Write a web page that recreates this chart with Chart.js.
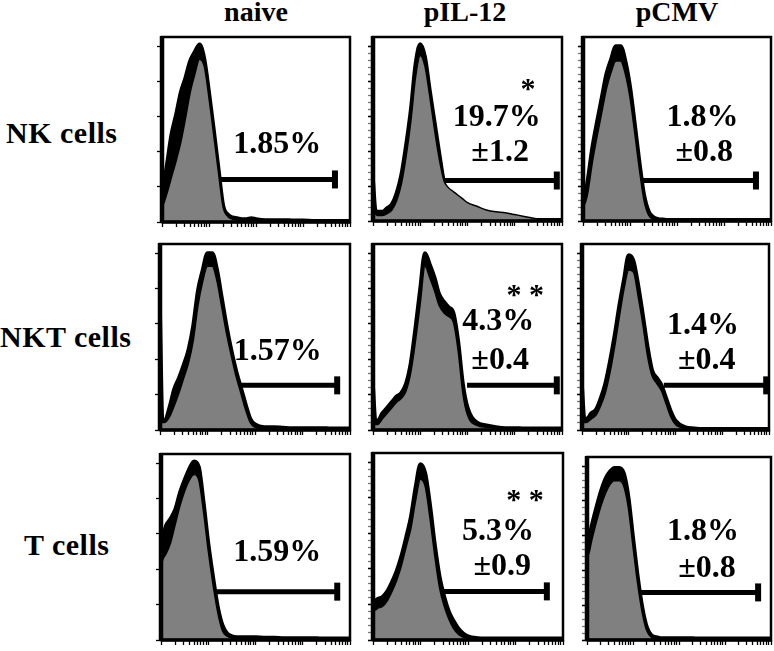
<!DOCTYPE html>
<html><head><meta charset="utf-8">
<script src="https://cdn.jsdelivr.net/npm/chart.js@4.4.1/dist/chart.umd.min.js"></script>
<style>
html,body{margin:0;padding:0;background:#fff;}
body{width:774px;height:651px;position:relative;overflow:hidden;font-family:"Liberation Serif","Times New Roman",serif;}
.lbl{position:absolute;font-weight:bold;white-space:nowrap;color:#000;}
.hdr{font-size:28px;line-height:28px;text-align:center;width:140px;top:-2px;}
.row{font-size:30px;line-height:30px;letter-spacing:0.5px;}
.panel{position:absolute;}
</style></head><body>
<div class="lbl hdr" style="left:186px">naive</div>
<div class="lbl hdr" style="left:395px">pIL-12</div>
<div class="lbl hdr" style="left:607px">pCMV</div>
<div class="lbl row" style="left:6px;top:118px">NK cells</div>
<div class="lbl row" style="left:0px;top:322px">NKT cells</div>
<div class="lbl row" style="left:24px;top:530px">T cells</div>
<div id="host"></div>
<script>
// ---- DATA ----
// fluorescence intensity in log decades (0 = 10^0 ... 4 = 10^4)
const X = [0,0.05,0.1,0.2,0.3,0.4,0.5,0.6,0.7,0.8,0.9,1.0,1.1,1.2,1.3,1.4,1.5,1.6,1.7,1.8,1.9,2.0,2.2,2.4,2.6,2.8,3.0,3.2,3.4,3.6,3.8,4.0];

// % of max, filled (grey) histogram and overlaid black outline histograms
const nkNaiveGray  = [8,11,15,24,33,43,56,70,80,88,84,67,47,27,8,3,1.5,1,0.8,0.8,0.8,0.8,0.6,0.6,0.5,0.5,0.5,0.4,0.4,0.4,0.4,0.4];
const nkNaiveLine  = [15,22,30,47,58,70,78,87,92,96,88,70,50,29,9,4,2.5,2,1.5,1.5,2,1.5,1,1,1,0.8,0.8,0.6,0.5,0.5,0.5,0.5];
const nkIL12Gray   = [20,4,3,3,4,6,11,20,35,54,78,90,84,68,50,34,22,18,16,14,12,10,8,6,5,4.5,3.5,2.5,1.5,0.5,0.3,0.3];
const nkIL12Line   = [22,6,5,5,7,9,15,25,41,60,85,96,89,71,54,37,21,10,3,1.5,1,1,0.5,0.5,0.5,0.5,0.5,0.5,0.5,0.5,0.5,0.5];
const nkCMVGray    = [8,10,15,32,46,59,72,81,87,87,80,67,48,28,11,3,1,0.5,0.5,0.5,0.5,0.5,0.5,0.5,0.5,0.5,0.5,0.5,0.5,0.5,0.5,0.5];
const nkCMVLine    = [12,14,22,40,54,67,80,88,95,95,87,73,53,32,14,5,2,1,0.8,0.6,0.5,0.5,0.5,0.5,0.5,0.5,0.5,0.5,0.5,0.5,0.5,0.5];
const nktNaiveGray = [4,4,4,7,13,20,28,36,48,67,80,88,88,80,66,52,40,29,20,11,4,1.5,0.8,0.8,0.6,0.5,0.5,0.5,0.5,0.5,0.5,0.5];
const nktNaiveLine = [62,5,5,12,22,28,35,43,56,75,86,95,95,86,71,56,43,32,23,14,6,3,1.5,1.5,1.2,1,1,1,1,0.8,0.8,0.8];
const nktIL12Gray  = [20,3,3,6,9,12,15,17,21,31,48,68,88,82,75,67,63,61,58,43,20,8,2.5,1.5,1,0.8,0.5,0.5,0.5,0.5,0.5,0.5];
const nktIL12Line  = [23,5,5,9,12,15,18,20,25,36,55,76,95,89,82,73,69,66,63,48,25,12,4,2.5,1.5,1,1,0.8,0.8,0.8,0.8,0.8];
const nktCMVGray   = [20,4,4,6,8,13,20,31,45,61,76,86,85,72,57,40,29,25,21,14,7,3,0.8,0.5,0.5,0.5,0.5,0.5,0.5,0.5,0.5,0.5];
const nktCMVLine   = [23,6,6,9,11,17,25,37,51,67,81,94,91,78,62,45,32,28,24,17,10,5,1.5,0.8,0.5,0.5,0.5,0.5,0.5,0.5,0.5,0.5];
const tNaiveGray   = [40,44,46,52,62,72,80,86,89,86,69,48,30,15,5,2,1,0.8,0.8,0.8,0.8,0.8,0.8,0.8,0.8,0.8,0.8,0.8,0.6,0.6,0.6,0.6];
const tNaiveLine   = [48,55,61,65,70,79,86,92,96,93,74,52,34,18,8,3.5,2,1.5,1.5,1.5,1.5,1.5,1.2,1.2,1,1,1,1,0.8,0.8,0.8,0.8];
const tIL12Gray    = [16,16,17,18,21,26,32,40,50,60,75,86,82,65,45,28,18,11,6,3,1.5,1,0.5,0.5,0.5,0.5,0.5,0.5,0.5,0.5,0.5,0.5];
const tIL12Line    = [20,21,22,23,26,31,37,45,55,66,82,94,89,72,51,34,23,15,10,6,3.5,2,1,0.8,0.8,0.8,0.8,0.8,0.8,0.8,0.8,0.8];
const tCMVGray     = [45,48,54,64,73,80,85,87,87,84,72,51,31,15,5,1.5,0.8,0.5,0.5,0.5,0.5,0.5,0.5,0.5,0.5,0.5,0.5,0.5,0.5,0.5,0.5,0.5];
const tCMVLine     = [51,56,62,72,81,88,92,94,94,91,78,56,35,18,7,2.5,1.5,1,1,1,1,1,1,0.8,0.8,0.8,0.8,0.8,0.8,0.8,0.8,0.8];

// positive gate limits (decades)
const gateStart = [1.19,1.52,1.25,1.65,1.99,1.75,1.16,1.45,1.15];
const gateEnd   = [3.68,3.89,3.68,3.73,3.89,3.94,3.73,3.66,3.72];

// annotation texts
const notes = [
  ['1.85%'], ['*','19.7%','±1.2'], ['1.8%','±0.8'],
  ['1.57%'], ['* *','4.3%','±0.4'], ['1.4%','±0.4'],
  ['1.59%'], ['* *','5.3%','±0.9'], ['1.8%','±0.8']
];

const graySeries = [nkNaiveGray,nkIL12Gray,nkCMVGray,nktNaiveGray,nktIL12Gray,nktCMVGray,tNaiveGray,tIL12Gray,tCMVGray];
const lineSeries = [nkNaiveLine,nkIL12Line,nkCMVLine,nktNaiveLine,nktIL12Line,nktCMVLine,tNaiveLine,tIL12Line,tCMVLine];

// ---- LAYOUT ----
const geom = [[162,37,350,222],[373,37,562,221],[583,37,771,221],
              [160,244,350,430],[373,244,562,430],[582,244,769,430],
              [161,454,350,640],[373,453,563,640],[587,457,771,640]];
const gateY = [23,22,22,24,24,24,26,26,26];
// [x, y, fontsize] per note
const notePos = [
  [[2.45,42,32]], [[3.28,71,30],[2.62,56,32],[2.69,37,32]], [[2.54,56,32],[2.58,37,32]],
  [[2.48,42,32]], [[3.22,72,30],[2.65,58,32],[2.69,37,32]], [[2.59,56,32],[2.67,37,32]],
  [[2.46,47,32]], [[3.2,74,30],[2.63,58,32],[2.72,39,32]], [[2.52,59,32],[2.61,39,32]]
];

const xTicks = [];
for (let d=0; d<4; d++) for (let k=1; k<10; k++) xTicks.push(d+Math.log10(k));
xTicks.push(4);
const yMajor = [0,19,38,57,76,95];
const yMinor = [];
for (let v=0; v<=96; v+=3.8) yMinor.push(+v.toFixed(2));

const boxPlugin = {
  id:'box',
  afterDatasetsDraw(chart, args, opts){
    const {ctx, chartArea:a, scales:{x,y}} = chart;
    ctx.save();
    ctx.strokeStyle='#000';
    ctx.lineWidth=2.5;
    ctx.strokeRect(a.left, a.top, a.right-a.left, a.bottom-a.top);
    ctx.lineWidth=4.5;
    ctx.beginPath(); ctx.moveTo(a.left, a.top-1); ctx.lineTo(a.left, a.bottom+1); ctx.stroke();
    ctx.lineWidth=3.5;
    ctx.beginPath(); ctx.moveTo(a.left, a.bottom); ctx.lineTo(a.right+1, a.bottom); ctx.stroke();
    ctx.fillStyle='#000'; ctx.textAlign='center'; ctx.textBaseline='middle';
    (opts.texts||[]).forEach(t=>{
      ctx.font = 'bold '+t.size+'px "Liberation Serif"';
      ctx.fillText(t.text, x.getPixelForValue(t.x), y.getPixelForValue(t.y));
    });
    ctx.restore();
  }
};

const host = document.getElementById('host');
geom.forEach((g,i)=>{
  const [L,T,R,B] = g;
  const div = document.createElement('div');
  div.className='panel';
  div.style.left=(L-8)+'px'; div.style.top=(T-4)+'px';
  div.style.width=(R-L+12)+'px'; div.style.height=(B-T+12)+'px';
  const cv = document.createElement('canvas');
  div.appendChild(cv); host.appendChild(div);
  const col = i%3;
  const yT = col===0 ? yMajor : yMajor.concat(yMinor);
  const texts = notes[i].map((s,j)=>({text:s, x:notePos[i][j][0], y:notePos[i][j][1], size:notePos[i][j][2]}));
  new Chart(cv, {
    type:'line',
    data:{datasets:[
      {data:X.map((x,k)=>({x, y:graySeries[i][k]})), fill:'origin', backgroundColor:'#808080',
       borderColor:'#000', borderWidth:1.5, pointRadius:0, cubicInterpolationMode:'monotone'},
      {data:X.map((x,k)=>({x, y:lineSeries[i][k]})), fill:{target:0, above:'#000', below:'rgba(0,0,0,0)'},
       borderColor:'#000', borderWidth:4, pointRadius:0, cubicInterpolationMode:'monotone'},
      {data:[{x:gateStart[i], y:gateY[i]},{x:gateEnd[i], y:gateY[i]}], borderColor:'#000', borderWidth:5,
       pointRadius:[0,9], pointStyle:'line', rotation:90, pointBorderWidth:6, pointBorderColor:'#000',
       pointBackgroundColor:'#000', fill:false, tension:0, clip:false}
    ]},
    options:{
      animation:false, responsive:true, maintainAspectRatio:false, events:[],
      layout:{autoPadding:false, padding:{top:4,right:4,left:0,bottom:0}},
      plugins:{legend:{display:false}, tooltip:{enabled:false}, box:{texts}},
      scales:{
        x:{type:'linear', min:0, max:4,
           afterBuildTicks:s=>{s.ticks=xTicks.map(v=>({value:v}));},
           afterFit:s=>{s.height=8;},
           ticks:{display:false},
           grid:{drawOnChartArea:false, tickLength:5, tickColor:'#000', tickWidth:1.3},
           border:{display:false}},
        y:{type:'linear', min:0, max:100,
           afterBuildTicks:s=>{s.ticks=yT.map(v=>({value:v}));},
           afterFit:s=>{s.width=8;},
           ticks:{display:false},
           grid:{drawOnChartArea:false, tickLength:5,
                 tickColor:c=>yMajor.includes(c.tick.value)?'#000':'#777', tickWidth:1.3},
           border:{display:false}}
      }
    },
    plugins:[boxPlugin]
  });
});
</script>
</body></html>
